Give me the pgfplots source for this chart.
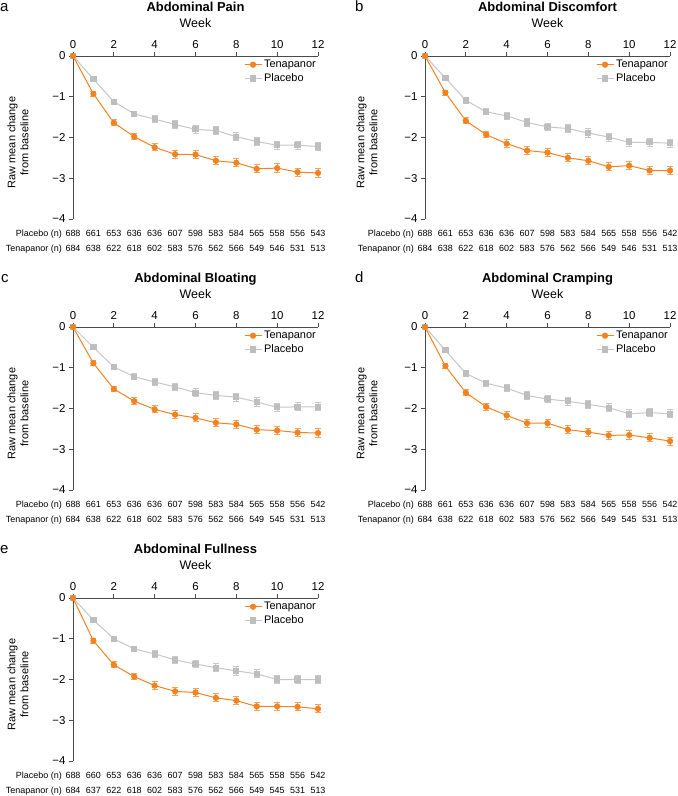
\documentclass[border=0pt]{standalone}
\usepackage{pgfplots}
\pgfplotsset{compat=1.18}
\usepackage{pgfplotstable}
\usepackage{fontspec}
\setmainfont{Liberation Sans}
\definecolor{tena}{RGB}{243,130,33}
\definecolor{tenaerr}{RGB}{246,160,90}
\definecolor{plac}{RGB}{190,190,190}
\definecolor{placline}{RGB}{198,198,198}
\definecolor{placerr}{RGB}{200,200,200}
\definecolor{axgray}{RGB}{75,75,75}

\pgfplotstableread{
w ten tenE pla plaE
0 0 0 0 0
1 -0.93 0.06 -0.57 0.05
2 -1.64 0.07 -1.12 0.06
3 -1.98 0.08 -1.42 0.07
4 -2.24 0.09 -1.55 0.08
5 -2.41 0.10 -1.68 0.09
6 -2.42 0.10 -1.80 0.09
7 -2.57 0.10 -1.83 0.10
8 -2.62 0.10 -1.98 0.10
9 -2.77 0.10 -2.10 0.10
10 -2.75 0.10 -2.19 0.10
11 -2.85 0.10 -2.19 0.10
12 -2.87 0.10 -2.22 0.10
}\tabA
\pgfplotstableread{
w ten tenE pla plaE
0 0 0 0 0
1 -0.90 0.06 -0.54 0.05
2 -1.59 0.07 -1.09 0.06
3 -1.93 0.08 -1.37 0.07
4 -2.15 0.09 -1.47 0.08
5 -2.32 0.10 -1.63 0.09
6 -2.37 0.10 -1.74 0.09
7 -2.50 0.10 -1.78 0.10
8 -2.57 0.10 -1.89 0.10
9 -2.72 0.10 -1.99 0.10
10 -2.69 0.10 -2.12 0.10
11 -2.81 0.10 -2.12 0.10
12 -2.81 0.10 -2.14 0.10
}\tabB
\pgfplotstableread{
w ten tenE pla plaE
0 0 0 0 0
1 -0.89 0.06 -0.50 0.05
2 -1.52 0.07 -0.98 0.06
3 -1.82 0.08 -1.22 0.07
4 -2.02 0.09 -1.35 0.08
5 -2.15 0.10 -1.47 0.09
6 -2.23 0.10 -1.61 0.09
7 -2.35 0.10 -1.68 0.10
8 -2.39 0.10 -1.72 0.10
9 -2.52 0.10 -1.84 0.10
10 -2.54 0.10 -1.97 0.10
11 -2.59 0.10 -1.96 0.10
12 -2.60 0.10 -1.96 0.10
}\tabC
\pgfplotstableread{
w ten tenE pla plaE
0 0 0 0 0
1 -0.96 0.06 -0.57 0.05
2 -1.61 0.07 -1.14 0.06
3 -1.96 0.08 -1.38 0.07
4 -2.17 0.09 -1.50 0.08
5 -2.36 0.10 -1.68 0.09
6 -2.36 0.10 -1.77 0.09
7 -2.52 0.10 -1.82 0.10
8 -2.58 0.10 -1.90 0.10
9 -2.66 0.10 -1.98 0.10
10 -2.65 0.10 -2.13 0.10
11 -2.72 0.10 -2.10 0.10
12 -2.80 0.10 -2.13 0.10
}\tabD
\pgfplotstableread{
w ten tenE pla plaE
0 0 0 0 0
1 -1.05 0.06 -0.54 0.05
2 -1.64 0.07 -1.00 0.06
3 -1.93 0.08 -1.25 0.07
4 -2.15 0.09 -1.37 0.08
5 -2.29 0.10 -1.52 0.09
6 -2.32 0.10 -1.62 0.09
7 -2.45 0.10 -1.71 0.10
8 -2.52 0.10 -1.79 0.10
9 -2.66 0.10 -1.86 0.10
10 -2.66 0.10 -2.00 0.10
11 -2.67 0.10 -2.00 0.10
12 -2.72 0.10 -2.00 0.10
}\tabE

\pgfplotsset{
 legend image code/.code={\draw[mark repeat=2,mark phase=2,#1] plot coordinates {(0bp,0bp) (8.5bp,0bp) (17bp,0bp)};},
 panel/.style={
  scale only axis, width=245bp, height=163bp,
  xmin=0, xmax=12, ymin=-4, ymax=0,
  axis x line=top, axis y line=left,
  axis line style={-, draw=axgray, line width=1bp},
  xtick={0,2,4,6,8,10,12},
  ytick={-4,-3,-2,-1,0},
  yticklabels={−4,−3,−2,−1,0},
  tick align=outside, major tick length=4bp,
  tick style={draw=axgray, line width=1bp},
  ticklabel style={font=\fontsize{11.5}{12}\selectfont},
  /pgf/number format/assume math mode=true,
  clip=false,
  legend style={draw=none, fill=none, at={(rel axis cs:1,1)}, anchor=north east,
    font=\fontsize{11}{12}\selectfont, inner sep=0pt, row sep=0.5bp,
    cells={anchor=west}, yshift=-2bp},
  reverse legend,
 },
 tenstyle/.style={tena, line width=1bp, mark=*, mark size=2.6bp,
  mark options={fill=tena, draw=tena},
  error bars/.cd, y dir=both, y explicit,
  error bar style={tenaerr, line width=1bp},
  error mark options={rotate=90, mark size=3bp, line width=1bp, tenaerr}},
 placstyle/.style={placline, line width=1bp, mark=square*, mark size=2.6bp,
  mark options={fill=plac, draw=plac},
  error bars/.cd, y dir=both, y explicit,
  error bar style={placerr, line width=1bp},
  error mark options={rotate=90, mark size=3bp, line width=1bp, placerr}},
}

\newcommand{\nfont}{\fontsize{9}{10}\selectfont}
% #1 left, #2 top, #3 table, #4 title, #5 letter, #6 letter x, #7 ylabel x, #8 placebo n, #9 tenapanor n
\newcommand{\panel}[9]{%
 \begin{axis}[panel, at={(#1bp,-#2bp)}, anchor=north west]
  \addplot[placstyle] table[x=w,y=pla,y error=plaE] {#3};
  \addplot[tenstyle] table[x=w,y=ten,y error=tenE] {#3};
  \legend{Placebo,Tenapanor}
 \end{axis}
 \node[anchor=base, font=\fontsize{13}{14}\selectfont\bfseries, inner sep=0pt] at ({#1bp+122.5bp},{-#2bp+44.5bp}) {#4};
 \node[anchor=base, font=\fontsize{12.5}{14}\selectfont, inner sep=0pt] at ({#1bp+122.5bp},{-#2bp+28.5bp}) {Week};
 \node[anchor=base west, font=\fontsize{15}{16}\selectfont, inner sep=0pt] at (#6bp,{-#2bp+44.5bp}) {#5};
 \node[rotate=90, align=center, font=\fontsize{11}{13}\selectfont, inner sep=0pt] at (#7bp,{-#2bp-86.5bp}) {Raw mean change\\from baseline};
 \node[anchor=base east, font=\nfont, inner sep=0pt] at ({#1bp-11bp},{-#2bp-180.5bp}) {Placebo (n)};
 \foreach \v [count=\i from 0] in {#8} \node[anchor=base, font=\nfont, inner sep=0pt] at ({#1bp+\i*20.4167bp},{-#2bp-180.5bp}) {\v};
 \node[anchor=base east, font=\nfont, inner sep=0pt] at ({#1bp-11bp},{-#2bp-195bp}) {Tenapanor (n)};
 \foreach \v [count=\i from 0] in {#9} \node[anchor=base, font=\nfont, inner sep=0pt] at ({#1bp+\i*20.4167bp},{-#2bp-195bp}) {\v};
}

\begin{document}
\begin{tikzpicture}
\useasboundingbox (0bp,0bp) rectangle (678bp,-796bp);
\panel{73}{56}{\tabA}{Abdominal Pain}{a}{0}{18}
 {688,661,653,636,636,607,598,583,584,565,558,556,543}
 {684,638,622,618,602,583,576,562,566,549,546,531,513}
\panel{425}{56}{\tabB}{Abdominal Discomfort}{b}{355}{367}
 {688,661,653,636,636,607,598,583,584,565,558,556,542}
 {684,638,622,618,602,583,576,562,566,549,546,531,513}
\panel{73}{327}{\tabC}{Abdominal Bloating}{c}{1}{18}
 {688,661,653,636,636,607,598,583,584,565,558,556,542}
 {684,638,622,618,602,583,576,562,566,549,545,531,513}
\panel{425}{327}{\tabD}{Abdominal Cramping}{d}{355}{367}
 {688,661,653,636,636,607,598,583,584,565,558,556,542}
 {684,638,622,618,602,583,576,562,566,549,545,531,513}
\panel{73}{598}{\tabE}{Abdominal Fullness}{e}{0}{18}
 {688,660,653,636,636,607,598,583,584,565,558,556,542}
 {684,637,622,618,602,583,576,562,566,549,545,531,513}
\end{tikzpicture}
\end{document}
